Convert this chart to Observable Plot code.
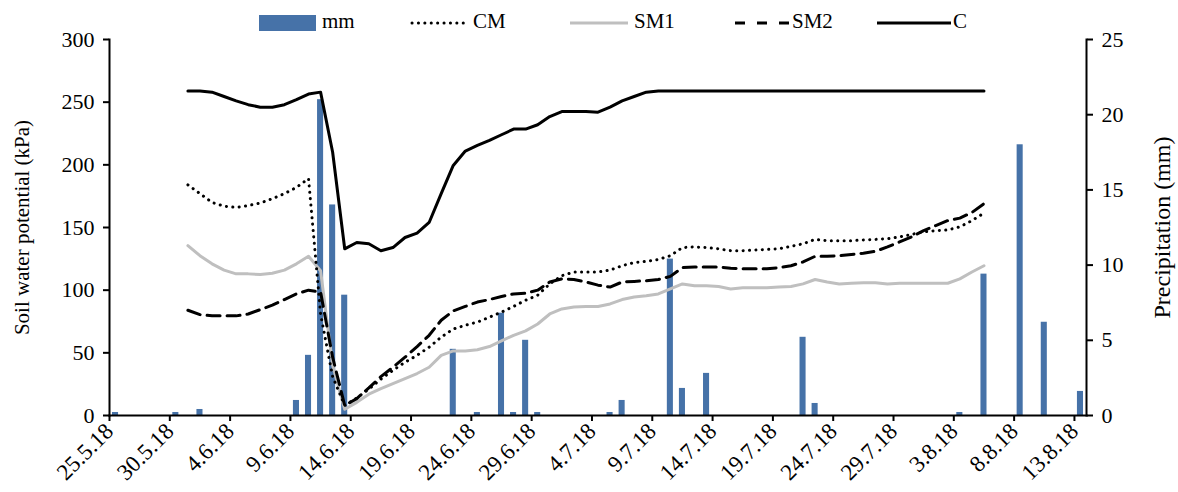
<!DOCTYPE html>
<html>
<head>
<meta charset="utf-8">
<script src="https://cdn.jsdelivr.net/npm/d3@7"></script>
<script src="https://cdn.jsdelivr.net/npm/@observablehq/plot@0.6"></script>
<style>
  body { margin: 0; background: #fff; }
  #legend { display: block; }
  #chart svg { display: block; }
</style>
</head>
<body>
<svg id="legend" width="1178" height="34"></svg>
<div id="chart"></div>
<script>
// Daily precipitation (mm)
const rainDates = ["2018-05-25","2018-05-30","2018-06-01","2018-06-09","2018-06-10","2018-06-11","2018-06-12","2018-06-13",
  "2018-06-22","2018-06-24","2018-06-26","2018-06-27","2018-06-28","2018-06-29","2018-07-05","2018-07-06",
  "2018-07-10","2018-07-11","2018-07-13","2018-07-21","2018-07-22","2018-08-03","2018-08-05","2018-08-08",
  "2018-08-10","2018-08-13"];
const rainMm = [0.2,0.2,0.4,1.0,4.0,21.0,14.0,8.0,
  4.4,0.2,6.8,0.2,5.0,0.2,0.2,1.0,
  10.4,1.8,2.8,5.2,0.8,0.2,9.4,18.0,
  6.2,1.6];

// Soil water potential (kPa), one reading per day from 31.5.18 to 5.8.18
const seriesStart = "2018-05-31";
const C = [259,259,258,254.5,251,248,246,246,248,252,256.5,258,210,133,138,137,131.5,134,142,145.5,
  154,177,199.5,211,215.5,219.5,224,228.5,228.5,232,238.5,242.5,242.5,242.5,242,246,251,254.5,258,
  259,259,259,259,259,259,259,259,259,259,259,259,259,259,259,259,259,259,259,259,259,259,259,259,259,259,259,259];
const CM = [184,177,170,167,166,167.5,169.5,173,177,182,189,81,31,8,14,21,29,36,42.5,48,
  54.5,62.5,69,72,74.5,78.5,82.5,87,92,96,105,111.5,114.5,114.5,114.5,116,119.5,122,123,124.5,
  127.5,134,134.5,134,133,131.5,131.5,132,132.5,133,135,137,140.5,139.5,139.5,139.5,140,140.5,141,142.5,
  144.5,146.5,147.5,148,150.5,155.5,161.5];
const SM1 = [135.5,127.5,121,116,113,113,112.5,113.5,116,121,127,115.5,40,5,10.5,17,21.5,25.5,29.5,33.5,
  38.5,48,51.5,51.5,52.5,55,59.5,64,67.5,73,81,85,86.5,87,87,89,92.5,94.5,95.5,97,
  101,105,103.5,103.5,103,101,102,102,102,102.5,103,105,108.5,106.5,105,105.5,106,106,105,105.5,
  105.5,105.5,105.5,105.5,109,114.5,119.5];
const SM2 = [84,80.5,79.5,79.5,79.5,81,84.5,88,92.5,97,100,98.5,46.5,8,13.5,22,31,38.5,46.5,55,
  64,76,83.5,87,90.5,92.5,95,97,97.5,100,106.5,109,108.5,106.5,104,102.5,106.5,107,107.5,108.5,
  111,118,118.5,118.5,118.5,117.5,117,117,117,118,119.5,122.5,127,127,127.5,128.5,129.5,131,134.5,138.5,
  142.5,147.5,151.5,155.5,157.5,162,169];

// Axis ticks
const dateTicks = ["2018-05-25","2018-05-30","2018-06-04","2018-06-09","2018-06-14","2018-06-19","2018-06-24",
  "2018-06-29","2018-07-04","2018-07-09","2018-07-14","2018-07-19","2018-07-24","2018-07-29","2018-08-03",
  "2018-08-08","2018-08-13"];
const kpaTicks = [0,50,100,150,200,250,300];
const mmTicks = [0,5,10,15,20,25];
const xDomain = ["2018-05-25","2018-08-14"];

const parse = d3.utcParse("%Y-%m-%d");
const KPA_PER_MM = 300 / 25;

const rain = rainDates.map((d, i) => ({date: parse(d), mm: rainMm[i]}));
const start = parse(seriesStart);
const toRows = (vals) => vals.map((v, k) => ({date: d3.utcHour.offset(d3.utcDay.offset(start, k), 12), v}));

const BLUE = "#4672A8";
const GRAY = "#BFBFBF";
const FONT = "Liberation Serif";

const styles = {
  C:   {stroke: "#000", strokeWidth: 3},
  CM:  {stroke: "#000", strokeWidth: 3, strokeDasharray: "0.1 6.3", strokeLinecap: "round"},
  SM1: {stroke: GRAY, strokeWidth: 3},
  SM2: {stroke: "#000", strokeWidth: 3, strokeDasharray: "13 7"}
};

const fmtDate = d => `${d.getUTCDate()}.${d.getUTCMonth() + 1}.18`;

const chart = Plot.plot({
  width: 1178,
  height: 458,
  marginTop: 5,
  marginBottom: 77,
  marginLeft: 109,
  marginRight: 92,
  style: {fontFamily: FONT, fontSize: "22px", color: "#000", background: "#fff", overflow: "visible"},
  x: {type: "utc", domain: xDomain.map(parse)},
  y: {domain: [0, 300]},
  marks: [
    Plot.rectY(rain, {
      x1: "date",
      x2: d => d3.utcDay.offset(d.date, 1),
      y: d => d.mm * KPA_PER_MM,
      fill: BLUE,
      insetLeft: 3,
      insetRight: 3
    }),
    Plot.line(toRows(SM1), {x: "date", y: "v", ...styles.SM1}),
    Plot.line(toRows(SM2), {x: "date", y: "v", ...styles.SM2}),
    Plot.line(toRows(CM), {x: "date", y: "v", ...styles.CM}),
    Plot.line(toRows(C), {x: "date", y: "v", ...styles.C}),
    Plot.frame({anchor: "left", stroke: "#000", strokeWidth: 2}),
    Plot.frame({anchor: "right", stroke: "#000", strokeWidth: 2}),
    Plot.frame({anchor: "bottom", stroke: "#000", strokeWidth: 2}),
    Plot.axisY({
      anchor: "left", ticks: kpaTicks, tickSize: 6, tickPadding: 9,
      strokeWidth: 2, label: null
    }),
    Plot.axisY({
      anchor: "right", ticks: mmTicks.map(t => t * KPA_PER_MM),
      tickFormat: t => t / KPA_PER_MM, tickSize: 6, tickPadding: 9,
      strokeWidth: 2, label: null
    }),
    Plot.axisX({
      ticks: dateTicks.map(parse), tickFormat: fmtDate, tickRotate: -45,
      tickSize: 6, tickPadding: 6, fontSize: 23, strokeWidth: 2, label: null
    }),
    Plot.text(["Soil water potential (kPa)"], {
      frameAnchor: "left", rotate: -90, dx: -87, textAnchor: "middle", fontSize: 21
    }),
    Plot.text(["Precipitation (mm)"], {
      frameAnchor: "right", rotate: -90, dx: 76, textAnchor: "middle", fontSize: 24,
      letterSpacing: "2.5px"
    })
  ]
});
document.getElementById("chart").appendChild(chart);

// Legend
const legend = d3.select("#legend").style("font-family", FONT).style("font-size", "21px");
const ly = 23;
legend.append("rect").attr("x", 259).attr("y", 15).attr("width", 57).attr("height", 16).attr("fill", BLUE);
legend.append("text").attr("x", 322).attr("y", 28).text("mm");
const legendLines = [
  {key: "CM", x1: 412, x2: 467, tx: 473, style: styles.CM},
  {key: "SM1", x1: 570, x2: 628, tx: 634, style: styles.SM1},
  {key: "SM2", x1: 735, x2: 790, tx: 792, style: {...styles.SM2, strokeDasharray: "10 12"}},
  {key: "C", x1: 877, x2: 951, tx: 953, style: styles.C}
];
for (const item of legendLines) {
  const l = legend.append("line")
    .attr("x1", item.x1).attr("x2", item.x2).attr("y1", ly).attr("y2", ly)
    .attr("stroke", item.style.stroke).attr("stroke-width", item.style.strokeWidth);
  if (item.style.strokeDasharray) l.attr("stroke-dasharray", item.style.strokeDasharray);
  if (item.style.strokeLinecap) l.attr("stroke-linecap", item.style.strokeLinecap);
  legend.append("text").attr("x", item.tx).attr("y", 28).text(item.key);
}
</script>
</body>
</html>
